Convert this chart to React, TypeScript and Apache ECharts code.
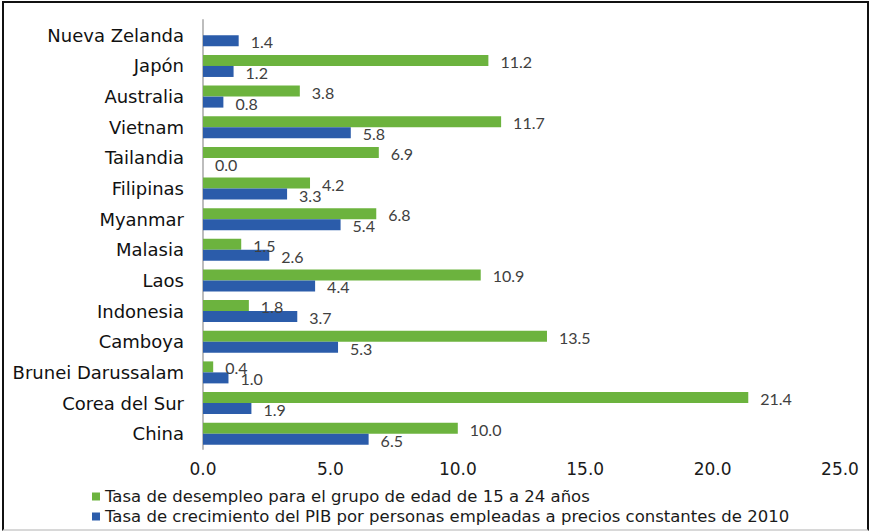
import React, { useEffect, useRef } from "react";
import * as echarts from "echarts";

const categories = [
  "Nueva Zelanda",
  "Japón",
  "Australia",
  "Vietnam",
  "Tailandia",
  "Filipinas",
  "Myanmar",
  "Malasia",
  "Laos",
  "Indonesia",
  "Camboya",
  "Brunei Darussalam",
  "Corea del Sur",
  "China",
];

const desempleo: (number | null)[] = [null, 11.2, 3.8, 11.7, 6.9, 4.2, 6.8, 1.5, 10.9, 1.8, 13.5, 0.4, 21.4, 10.0];
const crecimiento: number[] = [1.4, 1.2, 0.8, 5.8, 0.0, 3.3, 5.4, 2.6, 4.4, 3.7, 5.3, 1.0, 1.9, 6.5];

const seriesNames = [
  "Tasa de desempleo para el grupo de edad de 15 a 24 años",
  "Tasa de crecimiento del PIB por personas empleadas a precios constantes de 2010",
];

const xTicks = { min: 0, max: 25, interval: 5 };

export default function App() {
  const ref = useRef<HTMLDivElement>(null);
  useEffect(() => {
    if (!ref.current) return;
    const chart = echarts.init(ref.current, undefined, { renderer: "svg" });
    const valueLabel = {
      show: true,
      position: "right" as const,
      distance: 12,
      offset: [0, 1],
      fontFamily: "Lato",
      fontSize: 16,
      color: "#404040",
      formatter: (p: any) => Number(p.value).toFixed(1),
    };
    const legendBase = {
      orient: "horizontal",
      left: 92,
      itemWidth: 8,
      itemHeight: 8,
      itemTextGap: 4,
      icon: "rect",
      padding: 0,
      textStyle: { fontFamily: "DejaVu Sans", fontSize: 16.5, color: "#1a1a1a" },
    };
    chart.setOption({
      animation: false,
      backgroundColor: "#ffffff",
      grid: { left: 203, right: 30, top: 20, bottom: 83, containLabel: false },
      legend: [
        { ...legendBase, top: 488, data: [seriesNames[0]] },
        { ...legendBase, top: 508, data: [seriesNames[1]] },
      ],
      xAxis: {
        type: "value",
        min: xTicks.min,
        max: xTicks.max,
        interval: xTicks.interval,
        axisLine: { show: false },
        axisTick: { show: false },
        splitLine: { show: false },
        axisLabel: {
          margin: 11,
          fontFamily: "DejaVu Sans",
          fontSize: 17,
          color: "#1a1a1a",
          formatter: (v: number) => v.toFixed(1),
        },
      },
      yAxis: {
        type: "category",
        inverse: true,
        data: categories,
        axisLine: { show: true, lineStyle: { color: "#bdbdbd", width: 2 } },
        axisTick: { show: false },
        axisLabel: {
          margin: 19,
          fontFamily: "DejaVu Sans",
          fontSize: 18,
          color: "#111111",
        },
      },
      series: [
        {
          name: seriesNames[0],
          type: "bar",
          data: desempleo,
          barWidth: 11,
          barGap: "0%",
          itemStyle: { color: "#6cb33e" },
          label: valueLabel,
        },
        {
          name: seriesNames[1],
          type: "bar",
          data: crecimiento,
          barWidth: 11,
          barGap: "0%",
          itemStyle: { color: "#2b5caa" },
          label: valueLabel,
        },
      ],
    });
    return () => chart.dispose();
  }, []);
  return (
    <div style={{ position: "absolute", left: 0, top: 0, width: 870, height: 532, background: "#fff" }}>
      <div ref={ref} style={{ position: "absolute", left: 0, top: 0, width: 870, height: 532 }} />
      <div
        style={{
          position: "absolute",
          left: 2,
          top: 1,
          width: 863,
          height: 526,
          borderTop: "2px solid #111",
          borderLeft: "2px solid #111",
          borderRight: "2px solid #111",
          borderBottom: "2px solid #d8d8d8",
          pointerEvents: "none",
        }}
      />
    </div>
  );
}
